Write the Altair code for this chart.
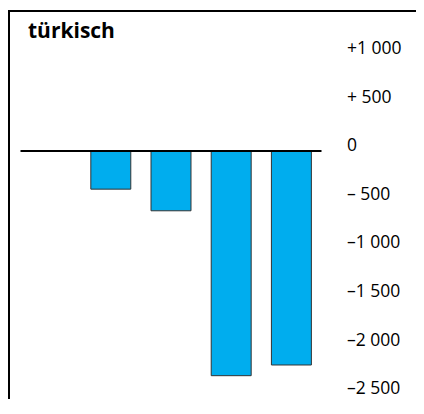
import altair as alt
import pandas as pd

# Data
categories = ["1", "2", "3", "4", "5"]
values = [None, -394, -617, -2315, -2205]
tick_values = [1000, 500, 0, -500, -1000, -1500, -2000, -2500]
tick_labels = ["+1 000", "+ 500", "0", "– 500", "–1 000", "–1 500", "–2 000", "–2 500"]
title_text = ["türkisch"]

df = pd.DataFrame({"cat": categories, "val": values})

label_expr = ""
for v, l in zip(tick_values, tick_labels):
    label_expr += f"datum.value == {v} ? '{l}' : "
label_expr += "''"

FONT = "Open Sans"
W, H = 301, 369

yscale = alt.Scale(domain=[-2550, 1250], nice=False, zero=False)

bars = alt.Chart(df).mark_bar(color="#00ADEE", stroke="#333333", strokeWidth=1).encode(
    x=alt.X("cat:N", sort=None, axis=None,
            scale=alt.Scale(domain=categories, paddingInner=0.336, paddingOuter=0.168)),
    y=alt.Y("val:Q", scale=yscale,
            axis=alt.Axis(orient="right", values=tick_values, labelExpr=label_expr,
                          domain=False, ticks=False, grid=False, labelPadding=25,
                          labelFont=FONT, labelFontSize=17.5, labelColor="black",
                          labelAlign="left", labelOffset=-5, title=None)),
)

one = pd.DataFrame({"t": title_text})

zero_line = alt.Chart(one).mark_rule(color="black", strokeWidth=2).encode(
    y=alt.datum(0), x=alt.value(0), x2=alt.value(W)
)

frame_top = alt.Chart(one).mark_rule(color="black", strokeWidth=2).encode(
    x=alt.value(-12.5), x2=alt.value(400), y=alt.value(-18.5)
)
frame_left = alt.Chart(one).mark_rule(color="black", strokeWidth=2).encode(
    x=alt.value(-11.5), y=alt.value(-19.5), y2=alt.value(380)
)

title = alt.Chart(one).mark_text(font=FONT, fontSize=21, fontWeight="bold",
                                 align="left", baseline="alphabetic", color="black").encode(
    x=alt.value(7.5), y=alt.value(8), text="t:N"
)

chart = alt.layer(bars, zero_line, frame_top, frame_left, title).properties(
    width=W, height=H,
    autosize=alt.AutoSizeParams(type="none"),
    padding={"left": 12.5, "top": 21.5, "right": 94.5, "bottom": 0},
).configure_view(stroke=None)

chart.save("out.html", embed_options={"renderer": "svg", "actions": False})
